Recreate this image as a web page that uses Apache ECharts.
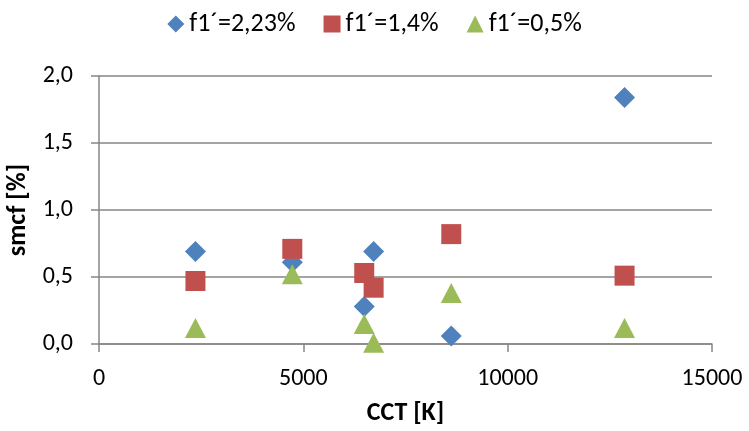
<!DOCTYPE html>
<html><head><meta charset="utf-8">
<script src="https://cdn.jsdelivr.net/npm/echarts@6/dist/echarts.min.js"></script>
<style>html,body{margin:0;padding:0;background:#fff}#c{width:749px;height:431px}</style>
</head><body><div id="c"></div>
<script>
const seriesNames = ["f1´=2,23%", "f1´=1,4%", "f1´=0,5%"];
const cctBlue = [2360, 4730, 6490, 6720, 8620, 12860];
const smcfBlue = [0.69, 0.61, 0.28, 0.69, 0.06, 1.84];
const cctRed = [2360, 4730, 6490, 6720, 8620, 12860];
const smcfRed = [0.47, 0.71, 0.53, 0.42, 0.82, 0.51];
const cctGreen = [2360, 4730, 6490, 6720, 8620, 12860];
const smcfGreen = [0.12, 0.52, 0.15, 0.01, 0.38, 0.12];
const xTicks = [0, 5000, 10000, 15000];
const yTicks = [0, 0.5, 1.0, 1.5, 2.0];

const font = "Carlito, Calibri, Lato, 'Open Sans', sans-serif";
const boldFont = "Carlito, Calibri, 'Open Sans', sans-serif";
const zip = (a, b) => a.map((v, i) => [v, b[i]]);
const chart = echarts.init(document.getElementById('c'), null, {renderer: 'canvas'});
chart.setOption({
  animation: false,
  legend: {
    top: 6, left: 'center', itemGap: 28, itemWidth: 17, itemHeight: 17,
    textStyle: {fontFamily: font, fontSize: 26, color: '#000'},
    data: [
      {name: seriesNames[0], icon: 'diamond'},
      {name: seriesNames[1], icon: 'rect'},
      {name: seriesNames[2], icon: 'triangle'}
    ]
  },
  grid: {left: 99, right: 37, top: 76, bottom: 87, containLabel: false, outerBoundsMode: 'none'},
  xAxis: {
    type: 'value', min: xTicks[0], max: xTicks[xTicks.length - 1], interval: 5000,
    name: 'CCT [K]', nameLocation: 'middle', nameGap: 56,
    nameTextStyle: {fontFamily: boldFont, fontSize: 26, fontWeight: 'bold', color: '#000'},
    axisLine: {show: true, lineStyle: {color: '#868686', width: 1.5}},
    axisTick: {show: true, length: 8, lineStyle: {color: '#868686', width: 1.5}},
    axisLabel: {fontFamily: font, fontSize: 24, color: '#000', margin: 23,
      formatter: v => String(v)},
    splitLine: {show: false}
  },
  yAxis: {
    type: 'value', min: yTicks[0], max: yTicks[yTicks.length - 1], interval: 0.5,
    name: 'smcf [%]', nameLocation: 'middle', nameGap: 64, nameRotate: 90,
    nameTextStyle: {fontFamily: boldFont, fontSize: 26, fontWeight: 'bold', color: '#000'},
    axisLine: {show: true, lineStyle: {color: '#868686', width: 1.5}},
    axisTick: {show: true, length: 8, lineStyle: {color: '#868686', width: 1.5}},
    axisLabel: {fontFamily: font, fontSize: 24, color: '#000', margin: 26,
      formatter: v => v.toFixed(1).replace('.', ',')},
    splitLine: {show: true, lineStyle: {color: '#868686', width: 1.5}}
  },
  series: [
    {name: seriesNames[0], type: 'scatter', symbol: 'diamond', symbolSize: 21,
     itemStyle: {color: '#4F81BD', opacity: 1}, data: zip(cctBlue, smcfBlue), z: 2},
    {name: seriesNames[1], type: 'scatter', symbol: 'rect', symbolSize: 20,
     itemStyle: {color: '#C0504D', opacity: 1}, data: zip(cctRed, smcfRed), z: 3},
    {name: seriesNames[2], type: 'scatter', symbol: 'triangle', symbolSize: [21, 20],
     itemStyle: {color: '#9BBB59', opacity: 1}, data: zip(cctGreen, smcfGreen), z: 4}
  ]
});
</script></body></html>
